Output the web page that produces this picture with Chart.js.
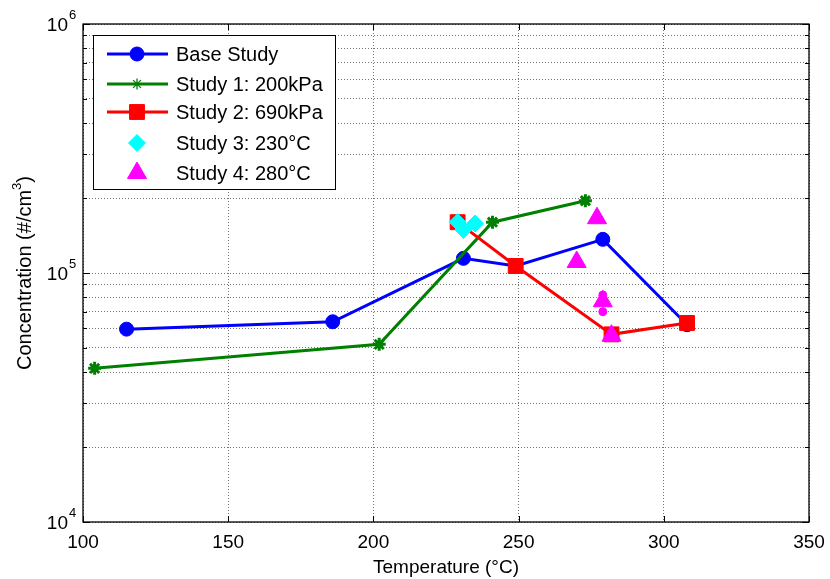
<!DOCTYPE html>
<html>
<head>
<meta charset="utf-8">
<script src="https://cdn.jsdelivr.net/npm/chart.js@4.4.1/dist/chart.umd.min.js"></script>
<style>
  html, body { margin: 0; padding: 0; background: #fff; }
  #wrap { width: 830px; height: 579px; }
</style>
</head>
<body>
<div id="wrap"><canvas id="chart" width="830" height="579"></canvas></div>
<script>
// Data
const xTicks = [100, 150, 200, 250, 300, 350];
const yDecades = [4, 5, 6];

const baseX = [115, 186, 231, 249, 279, 308];
const baseY = [59500, 63700, 114500, 106700, 136500, 62000];

const s1X = [104, 202, 241, 273];
const s1Y = [41400, 51700, 160000, 195000];

const s2X = [229, 249, 282, 308];
const s2Y = [160000, 106700, 56700, 63000];

const s3X = [229, 231, 235];
const s3Y = [160000, 149000, 158000];

const s4X = [277, 270, 279, 279, 279, 282];
const s4Y = [166000, 110700, 81600, 77000, 69900, 56000];

const labels = ['Base Study', 'Study 1: 200kPa', 'Study 2: 690kPa', 'Study 3: 230\u00B0C', 'Study 4: 280\u00B0C'];

const FONT = '"Liberation Sans", Arial, sans-serif';

function pts(xs, ys) {
    return xs.map((x, i) => ({ x: x, y: ys[i] }));
}

// y ticks: 1..9 x 10^n between the decades
const yTickVals = [];
for (let e = yDecades[0]; e < yDecades[yDecades.length - 1]; e++) {
    for (let m = 1; m < 10; m++) yTickVals.push(m * Math.pow(10, e));
}
yTickVals.push(Math.pow(10, yDecades[yDecades.length - 1]));

function line(ctx, x1, y1, x2, y2) {
    ctx.beginPath();
    ctx.moveTo(x1, y1);
    ctx.lineTo(x2, y2);
    ctx.stroke();
}

// legend, frame, tick marks and labels (MATLAB look)
const matlabAxes = {
    id: 'matlabAxes',
    afterDatasetsDraw(chart) {
        const ctx = chart.ctx;
        const sets = chart.data.datasets;
        // legend box
        const bx = 93, by = 35, bw = 242, bh = 154;
        const rows = [54, 84, 112, 143, 173];
        ctx.save();
        ctx.fillStyle = '#fff';
        ctx.fillRect(bx, by, bw, bh);
        ctx.strokeStyle = '#000';
        ctx.lineWidth = 1;
        ctx.strokeRect(bx + 0.5, by + 0.5, bw, bh);
        sets.forEach((ds, i) => {
            const ry = rows[i];
            if (ds.showLine !== false) {
                ctx.strokeStyle = ds.borderColor;
                ctx.lineWidth = ds.borderWidth;
                line(ctx, 107, ry, 168, ry);
            }
            const style = Array.isArray(ds.pointStyle) ? ds.pointStyle[0] : ds.pointStyle;
            const rad = Array.isArray(ds.pointRadius) ? ds.pointRadius[0] : ds.pointRadius;
            const bwid = ds.legendBorderWidth || ds.pointBorderWidth;
            ctx.fillStyle = ds.pointBackgroundColor;
            ctx.strokeStyle = ds.pointBorderColor;
            ctx.lineWidth = bwid;
            Chart.helpers.drawPoint(ctx, {
                pointStyle: style,
                radius: ds.legendRadius || rad,
                rotation: 0,
                borderWidth: bwid
            }, 137, ry);
            ctx.fillStyle = '#000';
            ctx.font = '20px ' + FONT;
            ctx.textAlign = 'left';
            ctx.textBaseline = 'middle';
            ctx.fillText(ds.label, 176, ry + 1);
        });
        ctx.restore();
    },
    afterDraw(chart) {
        const ctx = chart.ctx;
        const a = chart.chartArea;
        const xs = chart.scales.x, ys = chart.scales.y;
        ctx.save();
        ctx.strokeStyle = '#000';
        ctx.lineWidth = 1;
        // x tick marks inside
        xTicks.forEach(v => {
            const px = Math.round(xs.getPixelForValue(v)) + 0.5;
            line(ctx, px, a.bottom, px, a.bottom - 6);
            line(ctx, px, a.top, px, a.top + 6);
        });
        // y tick marks inside
        yTickVals.forEach(v => {
            const py = Math.round(ys.getPixelForValue(v)) + 0.5;
            const major = Math.abs(Math.log10(v) - Math.round(Math.log10(v))) < 1e-9;
            const len = major ? 7 : 4;
            line(ctx, a.left, py, a.left + len, py);
            line(ctx, a.right, py, a.right - len, py);
        });
        // frame
        ctx.lineWidth = 1.3;
        ctx.strokeRect(a.left, a.top, a.right - a.left, a.bottom - a.top);

        // tick labels
        ctx.fillStyle = '#000';
        ctx.font = '19px ' + FONT;
        ctx.textAlign = 'center';
        ctx.textBaseline = 'middle';
        xTicks.forEach(v => {
            ctx.fillText(String(v), xs.getPixelForValue(v), a.bottom + 21);
        });
        yDecades.forEach(e => {
            const py = ys.getPixelForValue(Math.pow(10, e));
            ctx.font = '19px ' + FONT;
            ctx.textAlign = 'right';
            ctx.fillText('10', 68, py + 2);
            ctx.font = '13px ' + FONT;
            ctx.textAlign = 'left';
            ctx.fillText(String(e), 69, py - 9);
        });

        // axis titles
        ctx.font = '19px ' + FONT;
        ctx.textAlign = 'center';
        ctx.fillText('Temperature (\u00B0C)', (a.left + a.right) / 2, 568);

        ctx.translate(25, 273);
        ctx.rotate(-Math.PI / 2);
        const t1 = 'Concentration (#/cm', t2 = '3', t3 = ')';
        ctx.font = '20px ' + FONT;
        const w1 = ctx.measureText(t1).width, w3 = ctx.measureText(t3).width;
        ctx.font = '13px ' + FONT;
        const w2 = ctx.measureText(t2).width;
        let sx = -(w1 + w2 + w3) / 2;
        ctx.textAlign = 'left';
        ctx.font = '20px ' + FONT;
        ctx.fillText(t1, sx, 0);
        ctx.font = '13px ' + FONT;
        ctx.fillText(t2, sx + w1, -8);
        ctx.font = '20px ' + FONT;
        ctx.fillText(t3, sx + w1 + w2, 0);
        ctx.restore();
    }
};

const ctx = document.getElementById('chart');

new Chart(ctx, {
    type: 'scatter',
    data: {
        datasets: [
            {
                label: labels[0],
                data: pts(baseX, baseY),
                showLine: true,
                borderColor: '#0000ff',
                borderWidth: 3,
                pointStyle: 'circle',
                pointRadius: 7,
                pointBackgroundColor: '#0000ff',
                pointBorderColor: '#0000ff',
                pointBorderWidth: 1,
                order: 5
            },
            {
                label: labels[1],
                data: pts(s1X, s1Y),
                showLine: true,
                borderColor: '#008000',
                borderWidth: 3,
                pointStyle: 'star',
                pointRadius: 6.5,
                legendRadius: 5.5,
                legendBorderWidth: 1.3,
                pointBackgroundColor: '#008000',
                pointBorderColor: '#008000',
                pointBorderWidth: 3,
                order: 4
            },
            {
                label: labels[2],
                data: pts(s2X, s2Y),
                showLine: true,
                borderColor: '#ff0000',
                borderWidth: 3,
                pointStyle: 'rect',
                pointRadius: 10.5,
                pointBackgroundColor: '#ff0000',
                pointBorderColor: '#ff0000',
                pointBorderWidth: 1,
                order: 3
            },
            {
                label: labels[3],
                data: pts(s3X, s3Y),
                showLine: false,
                borderColor: '#00ffff',
                borderWidth: 0,
                pointStyle: 'rectRot',
                pointRadius: 8.5,
                pointBackgroundColor: '#00ffff',
                pointBorderColor: '#00ffff',
                pointBorderWidth: 1,
                order: 2
            },
            {
                label: labels[4],
                data: pts(s4X, s4Y),
                showLine: false,
                borderColor: '#ff00ff',
                borderWidth: 0,
                pointStyle: ['triangle', 'triangle', 'circle', 'triangle', 'circle', 'triangle'],
                pointRadius: [11, 11, 4, 11, 4, 11],
                pointBackgroundColor: '#ff00ff',
                pointBorderColor: '#ff00ff',
                pointBorderWidth: 1,
                order: 1
            }
        ]
    },
    options: {
        responsive: false,
        animation: false,
        layout: { padding: { top: 24, right: 21, left: 0, bottom: 0 } },
        plugins: {
            legend: { display: false },
            tooltip: { enabled: false }
        },
        elements: { line: { tension: 0 } },
        scales: {
            x: {
                type: 'linear',
                min: 100,
                max: 350,
                afterFit: s => { s.height = 57; },
                afterBuildTicks: s => { s.ticks = xTicks.map(v => ({ value: v })); },
                ticks: { display: false },
                grid: { color: 'rgba(0,0,0,0.55)', lineWidth: 1, drawTicks: false },
                border: { display: false, dash: [1, 2] }
            },
            y: {
                type: 'logarithmic',
                min: 1e4,
                max: 1e6,
                afterFit: s => { s.width = 83; },
                afterBuildTicks: s => { s.ticks = yTickVals.map(v => ({ value: v })); },
                ticks: { display: false },
                grid: { color: 'rgba(0,0,0,0.55)', lineWidth: 1, drawTicks: false },
                border: { display: false, dash: [1, 2] }
            }
        }
    },
    plugins: [matlabAxes]
});
</script>
</body>
</html>
